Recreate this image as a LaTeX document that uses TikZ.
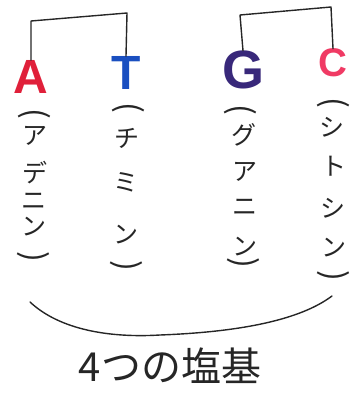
\documentclass[tikz,border=0pt]{standalone}
\usepackage{fontspec}
\newfontfamily\jp{Noto Sans CJK JP}
\newfontfamily\lat{Liberation Sans}
\definecolor{cA}{HTML}{E0203A}
\definecolor{cT}{HTML}{1A4FC0}
\definecolor{cG}{HTML}{38287A}
\definecolor{cC}{HTML}{F03A64}
\begin{document}
\begin{tikzpicture}[x=1pt,y=-1pt,
  base/.style={font=\lat\bfseries\fontsize{48}{48}\selectfont, inner sep=0pt},
  kana/.style={font=\jp\fontsize{25}{25}\selectfont, inner sep=0pt, text=black!85},
  par/.style={font=\jp\fontsize{32}{32}\selectfont, inner sep=0pt, text=black!85, rotate=-90},
  pen/.style={line width=1.4pt, line cap=round, line join=round, black!85}]
\useasboundingbox (0,0) rectangle (359,393);
% base letters
\node[base, text=cA] (a) at (31,77) {A};
\node[base, text=cT] (t) at (126,73) {T};
\node[base, text=cG, font=\lat\bfseries\fontsize{54}{54}\selectfont] (g) at (243,70) {G};
\node[base, text=cC, font=\lat\bfseries\fontsize{40}{40}\selectfont] (c) at (333,63) {C};
% pairing brackets
\coordinate (ab) at (31,21);
\coordinate (tb) at (127,13);
\coordinate (gb) at (240,15);
\coordinate (cb) at (331,7);
\draw[pen] (a.north) -- (ab) -- (tb) -- (t.north);
\draw[pen] (g.north) -- (gb) -- (cb) -- (c.north);
% A column
\node[par]  (a0) at (34,114) {(};
\node[kana] (a1) at (35,136) {ア};
\node[kana] (a2) at (35,173) {デ};
\node[kana] (a3) at (34,201) {ニ};
\node[kana] (a4) at (34,227) {ン};
\node[par]  (a5) at (33,257) {)};
% T column
\node[par]  (t0) at (128,108) {(};
\node[kana] (t1) at (127,138) {チ};
\node[kana] (t2) at (126,182) {ミ};
\node[kana] (t3) at (126,235) {ン};
\node[par]  (t5) at (126,266) {)};
% G column
\node[par]  (g0) at (240,110) {(};
\node[kana] (g1) at (244,135) {グ};
\node[kana] (g2) at (245,172) {ア};
\node[kana] (g3) at (245,207) {ニ};
\node[kana] (g4) at (245,247) {ン};
\node[par]  (g5) at (243,263) {)};
% C column
\node[par]  (c0) at (333,103) {(};
\node[kana] (c1) at (332,127) {シ};
\node[kana] (c2) at (334,166) {ト};
\node[kana] (c3) at (333,208) {シ};
\node[kana] (c4) at (334,248) {ン};
\node[par]  (c5) at (333,276) {)};
% grouping curve
\coordinate (bl) at (30,302);
\coordinate (bm) at (160,335);
\coordinate (br) at (332,296);
\draw[pen] (bl) .. controls (60,330) and (110,338) .. (bm) .. controls (240,332) and (300,320) .. (br);
\node[font=\jp\fontsize{40}{40}\selectfont, inner sep=0pt, text=black!85] (label) at (170,366) {4つの塩基};
\end{tikzpicture}
\end{document}
